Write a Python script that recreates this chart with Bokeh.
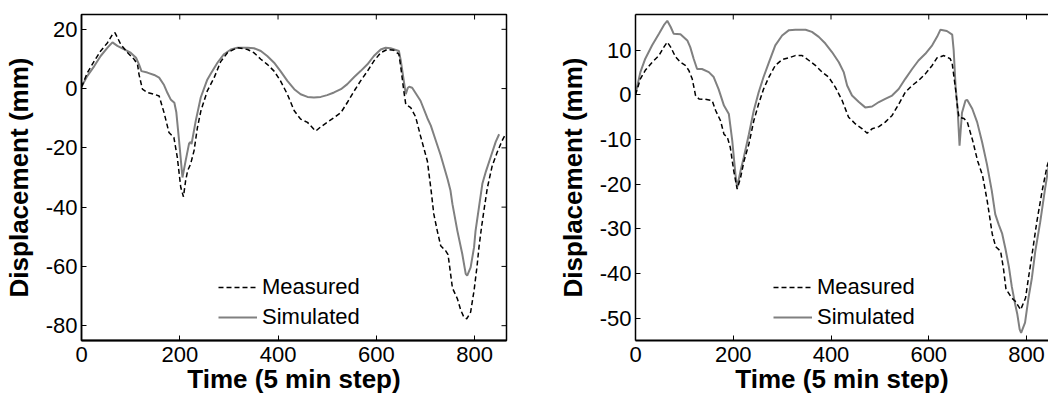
from math import pi
from bokeh.plotting import figure
from bokeh.models import Range1d, LinearAxis, FixedTicker, Legend, LegendItem
from bokeh.layouts import row
from bokeh.embed import file_html
from bokeh.resources import INLINE

FONT = "Liberation Sans"

x_ticks = [0, 200, 400, 600, 800]
y_ticks_a = [-80, -60, -40, -20, 0, 20]
y_ticks_b = [-50, -40, -30, -20, -10, 0, 10]
series_labels = ["Measured", "Simulated"]
x_title = "Time (5 min step)"
y_title = "Displacement (mm)"

# ---------------- Panel A ----------------
a_meas_t = [0, 12, 26, 39, 53, 63, 68, 80, 94, 107, 114, 117, 124, 134, 148, 158, 161, 168, 178, 188,
            195, 202, 207.5, 212, 216, 222, 229, 236, 243, 256, 270, 283, 297, 317, 338, 351, 365, 378,
            392, 405, 419, 433, 446, 460, 473, 477, 487, 500, 514, 528, 541, 555, 568, 582, 595, 609,
            622, 636, 646, 650, 656, 660, 670, 680, 690, 704, 712, 717, 724, 731, 741, 746, 750, 755,
            765, 772, 778, 784, 792, 799, 805, 809, 814, 819, 826, 836, 846, 856, 863]
a_meas_v = [0.5, 5.4, 9.3, 12.7, 15.5, 18.3, 18.9, 14.9, 12.1, 9.9, 8.2, 4.8, -0.2, -1.3, -1.9, -2.5,
            -4.2, -8.1, -14.8, -16.5, -23.2, -33.3, -36.5, -31, -27.7, -25.5, -21, -13.1, -7.5, -0.8,
            3.7, 9.0, 12.1, 13.8, 13.2, 12.1, 9.9, 8.2, 5.9, 2.6, -1.9, -7.5, -10.3, -11.4, -13.7,
            -14.3, -12.9, -11.4, -9.8, -8.1, -4.7, -0.8, 2.6, 5.9, 9.3, 12.1, 13.2, 12.9, 11.6, 7.1,
            -0.8, -5.3, -6.4, -9.5, -16, -24.5, -35, -42.3, -47.9, -53, -54.7, -56, -61, -67.3, -70.9,
            -74.8, -77, -77.7, -75.4, -68.1, -60, -53.5, -47, -41.2, -33.5, -26, -21.5, -17.6, -15.4]

a_sim_t = [0, 12, 26, 39, 53, 63, 73, 87, 100, 111, 117, 122, 134, 148, 158, 168, 175, 182, 189, 193,
           198.6, 205.5, 212, 219, 222, 224, 232.5, 242.7, 256, 263, 277, 290, 304, 317, 338, 351, 365,
           378, 392, 405, 419, 433, 446, 460, 473, 487, 500, 514, 528, 541, 555, 568, 582, 595, 609,
           619, 629, 646, 650, 656, 660, 664, 667, 673, 690, 704, 711, 720, 731, 745, 751, 755, 765,
           775, 782, 785, 792, 799, 802, 809, 816, 823, 833, 843, 850]
a_sim_v = [0.6, 4.3, 7.6, 11, 13.8, 15.6, 14.4, 13.2, 12.1, 10.4, 8.2, 5.9, 5.4, 4.6, 3.7, 1.2, -1.5,
           -3.8, -4.8, -8, -17.6, -30, -24.3, -18.5, -18, -18.7, -10.9, -3, 3, 5, 8.8, 11.6, 13.2,
           13.8, 13.8, 13.6, 12.7, 11, 8.75, 5.9, 2.6, -0.2, -1.9, -2.8, -3, -2.8, -2.2, -1.3, -0.2,
           1.5, 3.9, 5.9, 8.2, 11, 13.2, 13.8, 13.6, 12.7, 9.3, 2.6, -1.9, 0.2, 0.6, 0.3, -4.1, -10,
           -12.5, -17, -22.5, -30.5, -34.4, -39, -48, -55.8, -62.5, -63.1, -60.3, -53.5, -48, -40,
           -32, -28, -23, -18, -15.4]

# ---------------- Panel B ----------------
b_meas_t = [0, 10, 20, 34, 48, 58, 65, 72, 82, 92, 102, 109, 116, 123, 130, 143, 157, 164, 174, 181,
            188, 194, 201, 208, 215, 222, 232, 242, 252, 262, 273, 286, 300, 314, 327, 341, 355, 368,
            382, 395, 409, 423, 436, 450, 464, 474, 484, 498, 511, 525, 539, 552, 566, 579, 593, 607,
            617, 631, 644, 648, 655, 659, 662, 672, 679, 690, 700, 710, 720, 730, 737, 747, 753, 758,
            770, 777, 788, 798, 804, 811, 815, 821, 832, 842, 845]
b_meas_v = [0, 3.6, 5.5, 7.3, 8.8, 10.7, 11.8, 10.7, 8.5, 7.3, 6.6, 5.5, 3.6, -0.2, -0.9, -1, -1.3,
            -3.5, -5.8, -8.8, -9.5, -11.8, -17, -21.1, -18.5, -14.8, -11, -5.8, -2, 1.3, 4, 6.6, 7.9,
            8.3, 8.8, 8.8, 7.7, 6.6, 5.1, 4, 1.7, -1.3, -5, -6.5, -7.6, -8.6, -7.6, -7.1, -6.1, -4.6,
            -2, 0.6, 2.1, 3.2, 4.7, 6.6, 8.3, 8.8, 8.1, 7, 1.2, -3, -5, -5.3, -6.1, -10.3, -14.8, -18,
            -24, -31.2, -34, -35, -39, -43.5, -45.5, -46.2, -48.1, -45.5, -41, -36, -33, -28.5, -21.5,
            -16, -15]

b_sim_t = [0, 10, 20, 34, 48, 58, 65, 72, 78, 92, 106, 112, 119, 126, 136, 150, 160, 170, 181, 191,
           198, 204.5, 208, 215, 221.5, 232, 242, 252, 262, 273, 286, 300, 314, 327, 348, 361, 375,
           388.5, 402, 416, 426, 433, 443, 457, 470, 484, 498, 511, 525, 538.5, 552, 566, 579, 593,
           607, 617, 624, 637, 648, 651, 655, 659, 663, 668, 675, 678.5, 689, 699, 709, 719, 729, 736,
           743, 750, 757, 764, 770, 777, 781, 786, 789, 797, 804, 811, 818, 828, 838, 846]
b_sim_v = [0.2, 5.1, 8.1, 11.1, 13.7, 15.6, 16.6, 15.2, 13.7, 13.6, 12.2, 10.7, 8.1, 5.8, 5.8, 5.1, 4,
           1.3, -2.4, -4.3, -10.3, -17.8, -20.7, -17, -14, -8.8, -3.5, 0.6, 4, 7.3, 11.1, 13.3, 14.5,
           14.6, 14.6, 14.1, 13, 11.5, 9.6, 7.3, 5.1, 2.1, -0.15, -1.6, -2.8, -2.6, -1.6, -0.9, -0.15,
           1.3, 3.6, 5.8, 7.7, 9.2, 11.1, 13, 14.6, 14.3, 13.5, 10, 1.7, -3, -11.4, -4, -1.3, -1.1,
           -3.1, -6.1, -10.5, -15.5, -21.5, -26.7, -29, -31, -34.5, -38.5, -43, -47, -49, -52.5,
           -53.3, -51, -45.5, -41, -35, -28.5, -21, -15.5]


def style_axis(ax):
    ax.major_tick_in = 5
    ax.major_tick_out = 0
    ax.minor_tick_line_color = None
    ax.major_tick_line_color = "black"
    ax.axis_line_color = "black"
    ax.axis_line_width = 1.5
    ax.major_label_text_font = FONT
    ax.major_label_text_font_size = "22px"
    ax.major_label_text_color = "black"
    ax.major_label_standoff = 4


def style_title(ax, text, standoff):
    ax.axis_label = text
    ax.axis_label_text_font = FONT
    ax.axis_label_text_font_style = "bold"
    ax.axis_label_text_font_size = "26px"
    ax.axis_label_text_color = "black"
    ax.axis_label_standoff = standoff


def panel(mt, mv, st, sv, x_end, y0, y1, yticks, bl, br, fw, leg_x, box_right):
    p = figure(frame_width=fw, frame_height=326,
               x_range=Range1d(0, x_end), y_range=Range1d(y0, y1),
               output_backend="svg", toolbar_location=None,
               min_border_left=bl, min_border_right=br,
               min_border_top=14, min_border_bottom=54,
               background_fill_color="white", border_fill_color="white")
    p.grid.visible = False
    p.outline_line_color = "black" if box_right else None
    p.outline_line_width = 1.5

    p.xaxis.ticker = FixedTicker(ticks=x_ticks)
    p.yaxis.ticker = FixedTicker(ticks=yticks)
    p.yaxis.major_label_overrides = {t: str(t) for t in yticks}
    p.xaxis.major_label_overrides = {t: str(t) for t in x_ticks}
    style_axis(p.xaxis[0])
    style_axis(p.yaxis[0])
    p.xaxis[0].axis_line_width = 2
    p.xaxis[0].major_label_standoff = 6

    style_title(p.yaxis[0], y_title, 9)
    style_title(p.xaxis[0], x_title, -1)

    if not box_right:
        # top border line only (no ticks, no labels)
        top = LinearAxis(ticker=FixedTicker(ticks=[]), axis_line_color="black",
                         axis_line_width=1.5, major_tick_line_color=None,
                         minor_tick_line_color=None)
        p.add_layout(top, "above")

    # mirrored inward ticks on the top (and right) frame edges; half of each mark is clipped
    p.scatter(x_ticks, [y1] * len(x_ticks), marker="dash", size=10, angle=pi / 2,
              line_color="black", line_width=1)
    if box_right:
        p.scatter([x_end] * len(yticks), yticks, marker="dash", size=10,
                  line_color="black", line_width=1)

    r_sim = p.line(st, sv, line_color="#808080", line_width=2)
    r_meas = p.line(mt, mv, line_color="black", line_width=1.5, line_dash="5 3")

    leg = Legend(items=[LegendItem(label=series_labels[0], renderers=[r_meas]),
                        LegendItem(label=series_labels[1], renderers=[r_sim])],
                 location=(leg_x, 8), border_line_color=None, background_fill_alpha=0,
                 glyph_width=39, glyph_height=30, label_height=30, label_standoff=5,
                 padding=0, spacing=0, margin=0,
                 label_text_font=FONT, label_text_font_size="22px", label_text_color="black")
    p.add_layout(leg)
    return p


pa = panel(a_meas_t, a_meas_v, a_sim_t, a_sim_v, 865, -85, 25, y_ticks_a, 81, 20, 425, 137, True)
pb = panel(b_meas_t, b_meas_v, b_sim_t, b_sim_v, 845, -55, 18, y_ticks_b, 109, 0, 413, 138, False)

layout = row(pa, pb)
open("out.html", "w").write(file_html(layout, INLINE))
